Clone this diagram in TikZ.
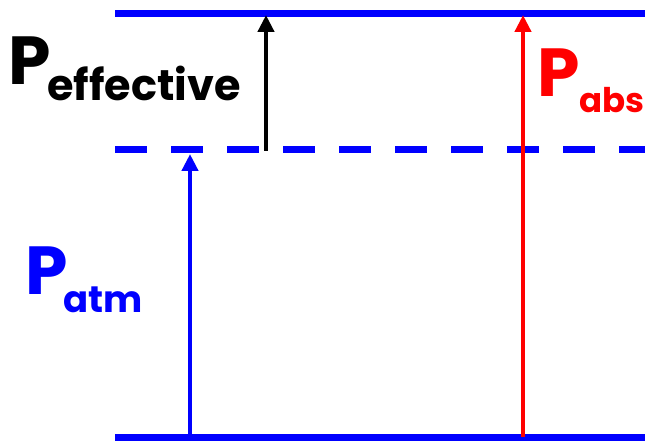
\documentclass[tikz,border=0pt]{standalone}
\usepackage{fontspec}
\setmainfont{Poppins}[BoldFont={* Bold}]
\usetikzlibrary{arrows.meta}
\definecolor{lblue}{RGB}{0,0,255}
\definecolor{lred}{RGB}{255,0,0}
\tikzset{
  level/.style={line width=7pt, lblue},
  dashlevel/.style={level, dash pattern=on 32pt off 24pt},
  arr/.style={line width=4.5pt, -{Triangle[length=17pt,width=16pt]}},
  lbl/.style={inner sep=0pt, font=\bfseries, anchor=base west},
  bigP/.style={lbl, font=\bfseries\fontsize{68}{68}\selectfont},
}
\begin{document}
\begin{tikzpicture}[x=1pt,y=-1pt]
\useasboundingbox (0,0) rectangle (645,443);
\coordinate (topL) at (115,14);
\coordinate (topR) at (645,14);
\coordinate (midL) at (115,150);
\coordinate (midR) at (645,150);
\coordinate (botL) at (115,437);
\coordinate (botR) at (645,437);
\draw[level] (topL) -- (topR);
\draw[dashlevel] (midL) -- (midR);
\draw[level] (botL) -- (botR);
% arrow end points
\coordinate (atmS) at (190,437);
\coordinate (atmE) at (190,154);
\coordinate (effS) at (266,151);
\coordinate (effE) at (266,15);
\coordinate (absS) at (523,437);
\coordinate (absE) at (523,15);
\draw[arr, lblue] (atmS) -- (atmE);
\draw[arr, black] (effS) -- (effE);
\draw[arr, lred] (absS) -- (absE);
% labels
\node[bigP] (Peff) at (8,85) {P};
\node[lbl, font=\bfseries\fontsize{43}{43}\selectfont] (seff) at (47,101) {effective};
\node[bigP, lred] (Pabs) at (537,97) {P};
\node[lbl, lred, font=\bfseries\fontsize{34}{34}\selectfont] (sabs) at (579,113) {abs};
\node[bigP, lblue] (Patm) at (25,295) {P};
\node[lbl, lblue, font=\bfseries\fontsize{37}{37}\selectfont] (satm) at (63,313) {atm};
\end{tikzpicture}
\end{document}
